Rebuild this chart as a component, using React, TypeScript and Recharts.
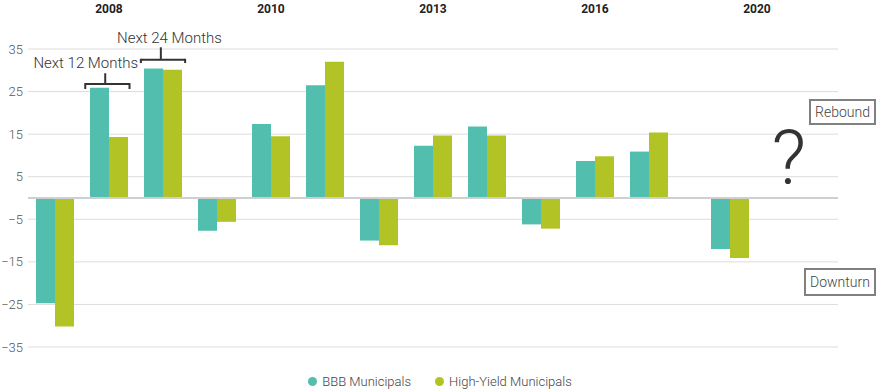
import React from 'react';
import {
  BarChart,
  Bar,
  XAxis,
  YAxis,
  CartesianGrid,
  ReferenceLine,
  ReferenceDot,
  Legend,
} from 'recharts';

const years = ['2008', '2010', '2013', '2016', '2020'];
const rowYears = [
  '2008', '2008', '2008',
  '2010', '2010', '2010',
  '2013', '2013', '2013',
  '2016', '2016', '2016',
  '2020', '2020',
];
const rowPeriods = [
  'Downturn', 'Next 12 Months', 'Next 24 Months',
  'Downturn', 'Next 12 Months', 'Next 24 Months',
  'Downturn', 'Next 12 Months', 'Next 24 Months',
  'Downturn', 'Next 12 Months', 'Next 24 Months',
  'Downturn', 'Next 12 Months',
];
const bbbMunicipals = [-24.7, 25.9, 30.4, -7.7, 17.4, 26.5, -10.0, 12.3, 16.8, -6.2, 8.7, 10.9, -12.0, null];
const highYieldMunicipals = [-30.2, 14.3, 30.1, -5.6, 14.5, 32.0, -11.1, 14.7, 14.7, -7.2, 9.8, 15.4, -14.1, null];
const yTicks = [-35, -25, -15, -5, 5, 15, 25, 35];
const seriesNames = ['BBB Municipals', 'High-Yield Municipals'];
const seriesColors = ['#52bfae', '#b2c425'];
const bracketLabels = ['Next 12 Months', 'Next 24 Months'];
const zoneLabels = ['Rebound', 'Downturn'];

const SLOTS = 3;
const data = rowYears.map((year, i) => {
  const yi = years.indexOf(year);
  const inYear = rowYears.filter((y) => y === year).length;
  const idx = rowYears.slice(0, i).filter((y) => y === year).length;
  return {
    year,
    period: rowPeriods[i],
    pos: yi * SLOTS + (SLOTS - inYear) / 2 + idx + 0.5,
    bbb: bbbMunicipals[i],
    hy: highYieldMunicipals[i],
  };
});

const posOf = (year: string, period: string) =>
  data.find((d) => d.year === year && d.period === period)!.pos;

const p12 = posOf('2008', 'Next 12 Months');
const p24 = posOf('2008', 'Next 24 Months');
const pQ = posOf('2020', 'Next 12 Months');

const brackets = [
  { pos: p12, level: 26.8, drop: 1.2, rise: 2.5, l: 0.44, r: 0.38, stem: -0.07, label: bracketLabels[0], lx: -0.43, ly: 31.9 },
  { pos: p24, level: 32.5, drop: 0.8, rise: 2.9, l: 0.41, r: 0.41, stem: -0.04, label: bracketLabels[1], lx: 0.12, ly: 37.7 },
];

const fmt = (v: number) => (v < 0 ? '\u2212' + Math.abs(v) : String(v));

const LegendContent = () => (
  <div
    style={{
      height: 20,
      display: 'flex',
      justifyContent: 'center',
      alignItems: 'center',
      fontSize: 13,
      fontWeight: 300,
      color: '#444',
    }}
  >
    {seriesNames.map((n, i) => (
      <div key={n} style={{ display: 'flex', alignItems: 'center', marginRight: i === 0 ? 24 : 0 }}>
        <span
          style={{
            display: 'inline-block',
            width: 9,
            height: 9,
            borderRadius: '50%',
            background: seriesColors[i],
            marginRight: 5,
          }}
        />
        <span>{n}</span>
      </div>
    ))}
  </div>
);

const boxStyle: React.CSSProperties = {
  position: 'absolute',
  border: '2px solid #808080',
  fontSize: 14,
  fontWeight: 300,
  color: '#444',
  padding: '0 4px',
  background: '#fff',
  whiteSpace: 'nowrap',
};

export default function App() {
  return (
    <div
      style={{
        position: 'absolute',
        left: 0,
        top: 0,
        width: 880,
        height: 391,
        fontFamily: 'Roboto, "Noto Sans", sans-serif',
        background: '#fff',
      }}
    >
      <BarChart
        width={880}
        height={391}
        data={data}
        margin={{ top: 0, right: 42, bottom: 24, left: 0 }}
        barGap={0}
        barSize={19}
      >
        <CartesianGrid vertical={false} stroke="#dcdcdc" />
        <XAxis xAxisId="main" type="number" dataKey="pos" domain={[0, 15]} hide />
        <XAxis
          xAxisId="top"
          orientation="top"
          type="number"
          dataKey="pos"
          domain={[0, 15]}
          ticks={years.map((_, i) => i * SLOTS + SLOTS / 2)}
          tickFormatter={(v: number) => years[Math.round((v - SLOTS / 2) / SLOTS)]}
          axisLine={false}
          tickLine={false}
          tickSize={0}
          tickMargin={36}
          height={49}
          interval={0}
          tick={{ fontSize: 12, fontWeight: 700, fill: '#222' }}
        />
        <YAxis
          type="number"
          domain={[-35, 35]}
          ticks={yTicks}
          tickFormatter={fmt}
          axisLine={false}
          tickLine={false}
          tickSize={0}
          tickMargin={5}
          width={28}
          interval={0}
          tick={{ fontSize: 13, fontWeight: 300, fill: '#555' }}
        />
        <ReferenceLine xAxisId="main" y={0} stroke="#cfcfcf" strokeWidth={2} />
        <Bar xAxisId="main" dataKey="bbb" name={seriesNames[0]} fill={seriesColors[0]} isAnimationActive={false} />
        <Bar xAxisId="main" dataKey="hy" name={seriesNames[1]} fill={seriesColors[1]} isAnimationActive={false} />
        {brackets.map((b, i) => (
          <React.Fragment key={i}>
            <ReferenceLine
              xAxisId="main"
              ifOverflow="visible"
              stroke="#333"
              strokeWidth={2}
              segment={[{ x: b.pos - b.l, y: b.level }, { x: b.pos + b.r, y: b.level }]}
            />
            <ReferenceLine
              xAxisId="main"
              ifOverflow="visible"
              stroke="#333"
              strokeWidth={2}
              segment={[{ x: b.pos - b.l, y: b.level + 0.2 }, { x: b.pos - b.l, y: b.level - b.drop }]}
            />
            <ReferenceLine
              xAxisId="main"
              ifOverflow="visible"
              stroke="#333"
              strokeWidth={2}
              segment={[{ x: b.pos + b.r, y: b.level + 0.2 }, { x: b.pos + b.r, y: b.level - b.drop }]}
            />
            <ReferenceLine
              xAxisId="main"
              ifOverflow="visible"
              stroke="#333"
              strokeWidth={2}
              segment={[{ x: b.pos + b.stem, y: b.level }, { x: b.pos + b.stem, y: b.level + b.rise }]}
            />
            <ReferenceDot
              xAxisId="main"
              ifOverflow="visible"
              x={b.pos + b.lx}
              y={b.ly}
              r={0}
              fill="none"
              stroke="none"
              label={{ value: b.label, position: 'center', fontSize: 15, fontWeight: 300, fill: '#333' }}
            />
          </React.Fragment>
        ))}
        <ReferenceDot
          xAxisId="main"
          ifOverflow="visible"
          x={pQ + 0.09}
          y={9.7}
          r={0}
          fill="none"
          stroke="none"
          label={{ value: '?', position: 'center', fontSize: 76, fontWeight: 300, fill: '#333' }}
        />
        <Legend
          verticalAlign="bottom"
          wrapperStyle={{ left: 0, width: 880, bottom: 0 }}
          content={() => <LegendContent />}
        />
      </BarChart>
      <div style={{ ...boxStyle, left: 809, top: 99, lineHeight: '22px' }}>{zoneLabels[0]}</div>
      <div style={{ ...boxStyle, left: 804, top: 268, lineHeight: '24px' }}>{zoneLabels[1]}</div>
    </div>
  );
}
